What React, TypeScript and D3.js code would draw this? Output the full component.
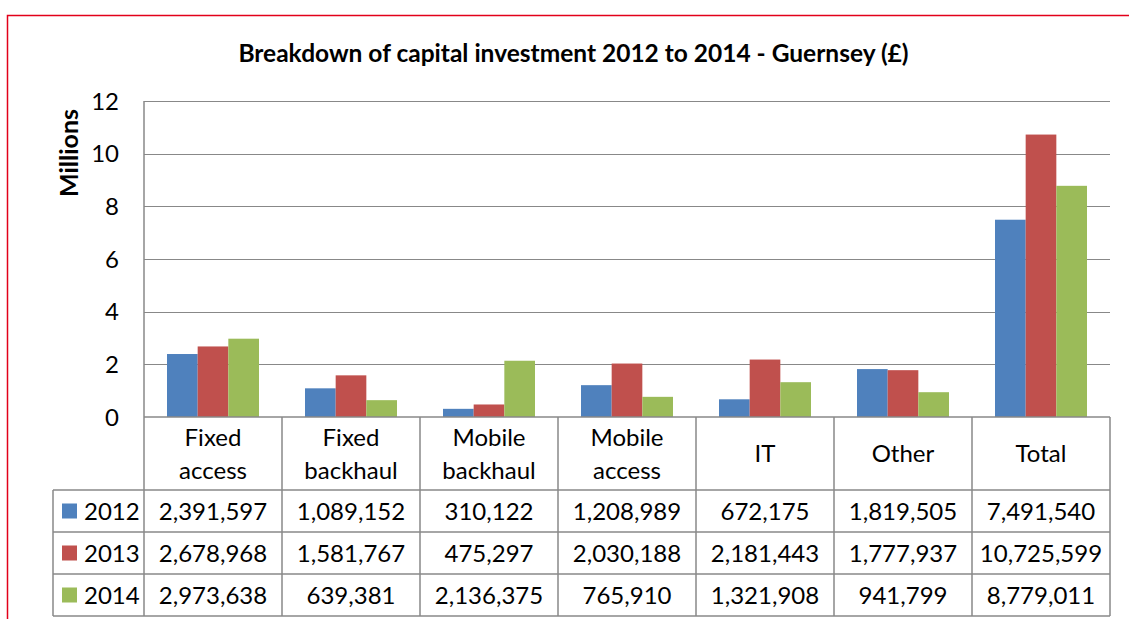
import React from "react";
import * as d3 from "d3";

const categories = ["Fixed access", "Fixed backhaul", "Mobile backhaul", "Mobile access", "IT", "Other", "Total"];
const categoryLines = [["Fixed", "access"], ["Fixed", "backhaul"], ["Mobile", "backhaul"], ["Mobile", "access"], ["IT"], ["Other"], ["Total"]];
const seriesNames = ["2012", "2013", "2014"];
const values2012 = [2391597, 1089152, 310122, 1208989, 672175, 1819505, 7491540];
const values2013 = [2678968, 1581767, 475297, 2030188, 2181443, 1777937, 10725599];
const values2014 = [2973638, 639381, 2136375, 765910, 1321908, 941799, 8779011];
const seriesValues = [values2012, values2013, values2014];
const colors = ["#4F81BD", "#C0504D", "#9BBB59"];
const yTicks = [0, 2, 4, 6, 8, 10, 12];
const title = "Breakdown of capital investment 2012 to 2014 - Guernsey (£)";
const yAxisTitle = "Millions";

const FONT = "Lato, 'Open Sans', sans-serif";

export default function App() {
  const W = 1129, H = 619;
  const left = 144, right = 1110, top = 101, zeroY = 417;
  const headerBottom = 490;
  const rowH = 42;
  const legendLeft = 53;

  const y = d3.scaleLinear().domain([0, 12]).range([zeroY, top]);
  const x0 = d3.scaleBand<string>().domain(categories).range([left, right]).paddingInner(0).paddingOuter(0);
  const x1 = d3.scaleBand<string>().domain(seriesNames).range([0, x0.bandwidth()]).paddingInner(0).paddingOuter(0.75);
  const fmt = d3.format(",");
  const grid = "#888888";
  const tableBottom = headerBottom + rowH * 3;

  return (
    <svg width={W} height={H} style={{ position: "absolute", left: 0, top: 0, display: "block", background: "#fff" }} fontFamily={FONT}>
      <rect x={7.5} y={15.5} width={1200} height={700} fill="none" stroke="#E2001A" strokeWidth={1.5} />
      <text x={573.5} y={62} textAnchor="middle" fontWeight="bold" fontSize={24.5} fill="#000">{title}</text>
      <text transform={`translate(78,153) rotate(-90)`} textAnchor="middle" fontWeight="bold" fontSize={25} fill="#000">{yAxisTitle}</text>
      {yTicks.map((t) => (
        <g key={t}>
          {t > 0 && <line x1={left} x2={right} y1={Math.round(y(t)) + 0.5} y2={Math.round(y(t)) + 0.5} stroke={grid} strokeWidth={1.2} />}
          <text x={119} y={y(t)} dy="0.36em" textAnchor="end" fontSize={24} fill="#000">{t}</text>
        </g>
      ))}
      {categories.map((c, i) => (
        <g key={c}>
          {seriesNames.map((s, j) => {
            const v = seriesValues[j][i] / 1e6;
            const bx = (x0(c) as number) + (x1(s) as number);
            return <rect key={s} x={bx} y={y(v)} width={x1.bandwidth()} height={zeroY - y(v)} fill={colors[j]} />;
          })}
        </g>
      ))}
      {/* table */}
      <g stroke={grid} strokeWidth={1.5} fill="none">
        <line x1={left} x2={left} y1={top} y2={tableBottom} />
        <line x1={left} x2={right} y1={zeroY} y2={zeroY} />
        {categories.map((c) => (
          <line key={c} x1={(x0(c) as number) + x0.bandwidth()} x2={(x0(c) as number) + x0.bandwidth()} y1={zeroY} y2={tableBottom} />
        ))}
        {[0, 1, 2, 3].map((r) => (
          <line key={r} x1={legendLeft} x2={right} y1={headerBottom + r * rowH} y2={headerBottom + r * rowH} />
        ))}
        <line x1={legendLeft} x2={legendLeft} y1={headerBottom} y2={tableBottom} />
      </g>
      {categories.map((c, i) => {
        const cx = (x0(c) as number) + x0.bandwidth() / 2;
        const lines = categoryLines[i];
        const mid = (zeroY + headerBottom) / 2;
        return (
          <g key={c}>
            {lines.map((ln, k) => (
              <text key={k} x={cx} y={mid + (k - (lines.length - 1) / 2) * 33} dy="0.36em" textAnchor="middle" fontSize={24} fill="#000">{ln}</text>
            ))}
            {seriesNames.map((s, j) => (
              <text key={s} x={cx} y={headerBottom + j * rowH + rowH / 2} dy="0.36em" textAnchor="middle" fontSize={24} fill="#000">{fmt(seriesValues[j][i])}</text>
            ))}
          </g>
        );
      })}
      {seriesNames.map((s, j) => {
        const cy = headerBottom + j * rowH + rowH / 2;
        return (
          <g key={s}>
            <rect x={62} y={cy - 7.5} width={15} height={15} fill={colors[j]} />
            <text x={84} y={cy} dy="0.36em" fontSize={24} fill="#000">{s}</text>
          </g>
        );
      })}
    </svg>
  );
}
